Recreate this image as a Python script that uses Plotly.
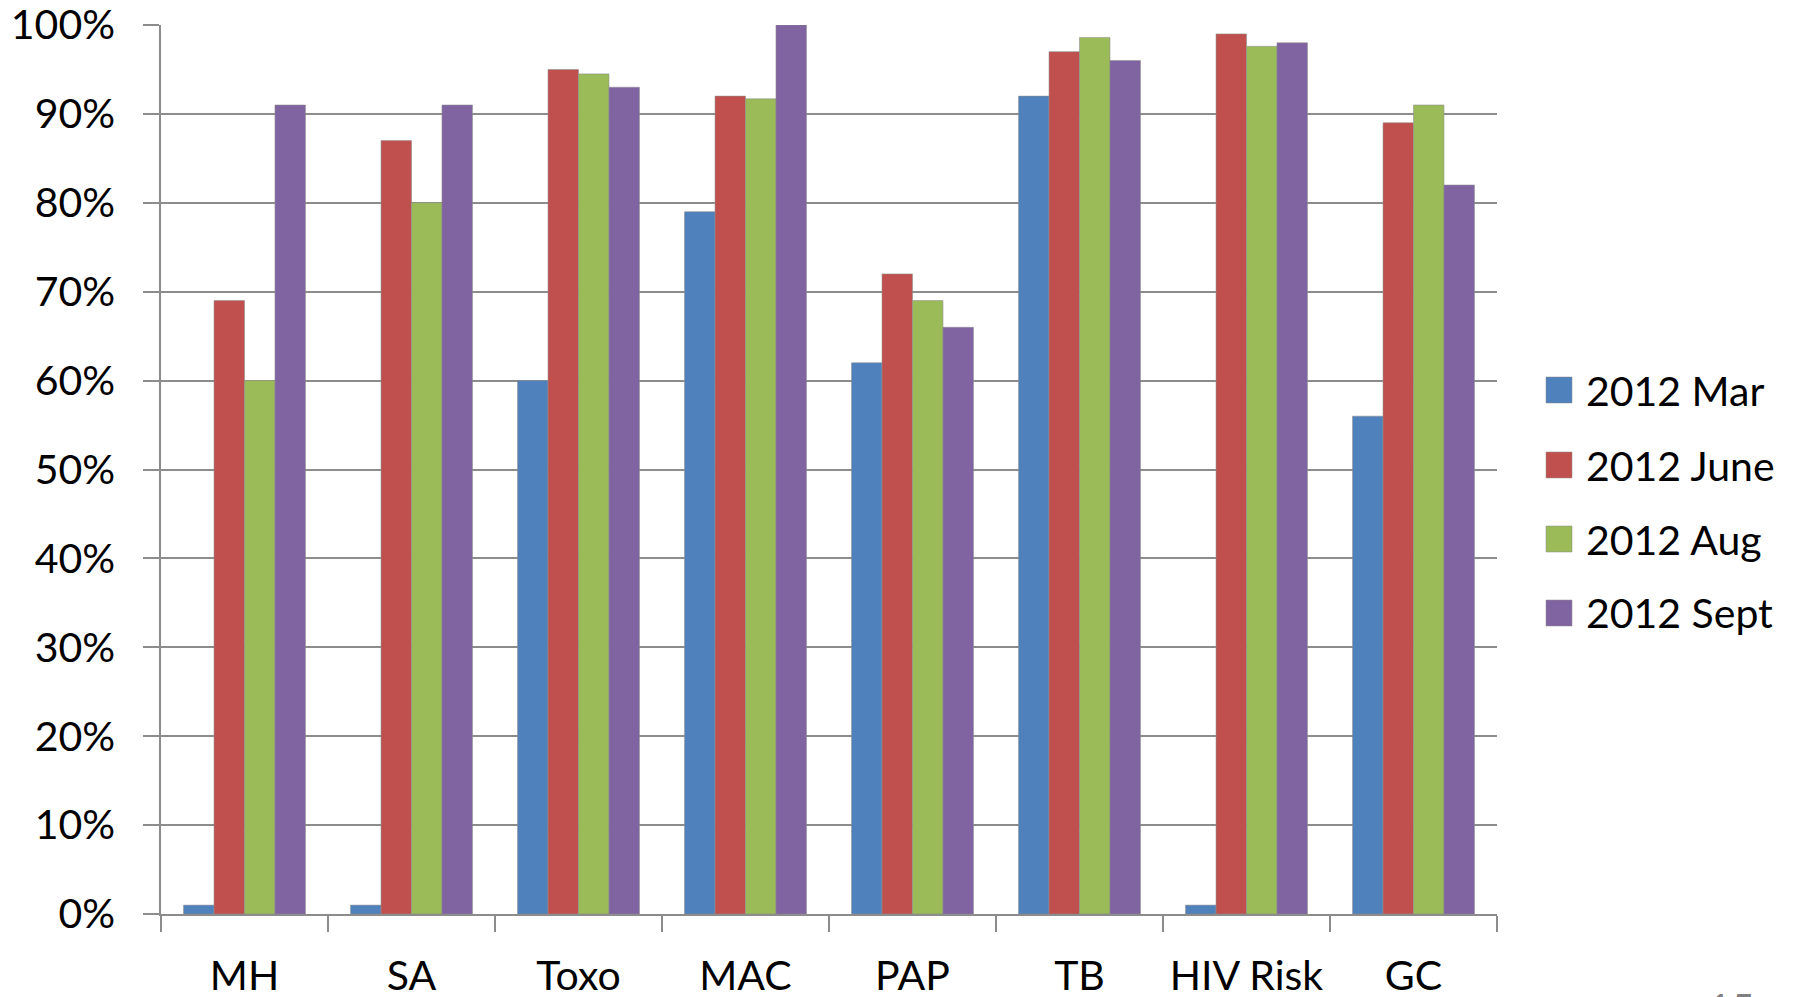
import plotly.graph_objects as go

# Categories and monthly completion rates (percent)
categories = ["MH", "SA", "Toxo", "MAC", "PAP", "TB", "HIV Risk", "GC"]
series_names = ["2012 Mar", "2012 June", "2012 Aug", "2012 Sept"]
mar_2012 = [1, 1, 60, 79, 62, 92, 1, 56]
june_2012 = [69, 87, 95, 92, 72, 97, 99, 89]
aug_2012 = [60, 80, 94.5, 91.7, 69, 98.6, 97.6, 91]
sept_2012 = [91, 91, 93, 100, 66, 96, 98, 82]
y_ticks = [0, 10, 20, 30, 40, 50, 60, 70, 80, 90, 100]
page_number = "15"

colors = ["#4F81BD", "#C0504D", "#9BBB59", "#8064A2"]
series_values = [mar_2012, june_2012, aug_2012, sept_2012]

W, H = 1803, 997
L, R, T, B = 161, 1497, 25, 914  # plot area in pixels
FONT = "Lato, Carlito, Calibri, sans-serif"
GRID = "#8c8c8c"

fig = go.Figure()
for name, vals, col in zip(series_names, series_values, colors):
    fig.add_trace(go.Bar(
        x=categories,
        y=[v / 100 for v in vals],
        name=name,
        marker=dict(color=col, line=dict(color="rgba(140,140,140,0.55)", width=1)),
        showlegend=False,
    ))


def px_x(px):
    return (px - L) / (R - L)


def px_y(py):
    return (B - py) / (B - T)


# Legend: square swatches with labels on the right
shapes = []
annotations = []
row_centers = [390, 465, 539, 613]
for name, col, cy in zip(series_names, colors, row_centers):
    shapes.append(dict(
        type="rect", xref="paper", yref="paper",
        x0=px_x(1546), x1=px_x(1572), y0=px_y(cy + 13), y1=px_y(cy - 13),
        fillcolor=col, line=dict(color="rgba(140,140,140,0.5)", width=1),
    ))
    annotations.append(dict(
        xref="paper", yref="paper", x=px_x(1584), y=px_y(cy),
        xanchor="left", yanchor="middle", text=name, showarrow=False,
        font=dict(family=FONT, size=41, color="#000000"),
    ))

# Slide page number at the bottom edge
annotations.append(dict(
    xref="paper", yref="paper", x=px_x(1706), y=px_y(982),
    xanchor="left", yanchor="top", text=page_number, showarrow=False,
    font=dict(family=FONT, size=40, color="#808080"),
))

fig.update_layout(
    width=W, height=H,
    margin=dict(l=L, r=W - R, t=T, b=H - B, pad=0),
    paper_bgcolor="white", plot_bgcolor="white",
    barmode="group", bargap=0.27, bargroupgap=0,
    font=dict(family=FONT, color="#000000"),
    shapes=shapes, annotations=annotations,
    showlegend=False,
)

fig.update_xaxes(
    type="category",
    automargin=False,
    showgrid=False, zeroline=False,
    showline=True, linecolor=GRID, linewidth=1.5,
    ticks="outside", ticklen=16, tickcolor=GRID, tickwidth=1.5,
    tickson="boundaries",
    tickfont=dict(family=FONT, size=41, color="#000000"),
    ticklabelstandoff=25,
)

fig.update_yaxes(
    range=[0, 1],
    automargin=False,
    tickvals=[t / 100 for t in y_ticks],
    ticktext=[f"{t}%" for t in y_ticks],
    showgrid=True, gridcolor=GRID, gridwidth=1.5,
    zeroline=False,
    showline=True, linecolor=GRID, linewidth=1.5,
    ticks="outside", ticklen=16, tickcolor=GRID, tickwidth=1.5,
    tickfont=dict(family=FONT, size=41, color="#000000"),
    ticklabelstandoff=20,
    ticklabeloverflow="allow",
)

fig.write_html("out.html")
